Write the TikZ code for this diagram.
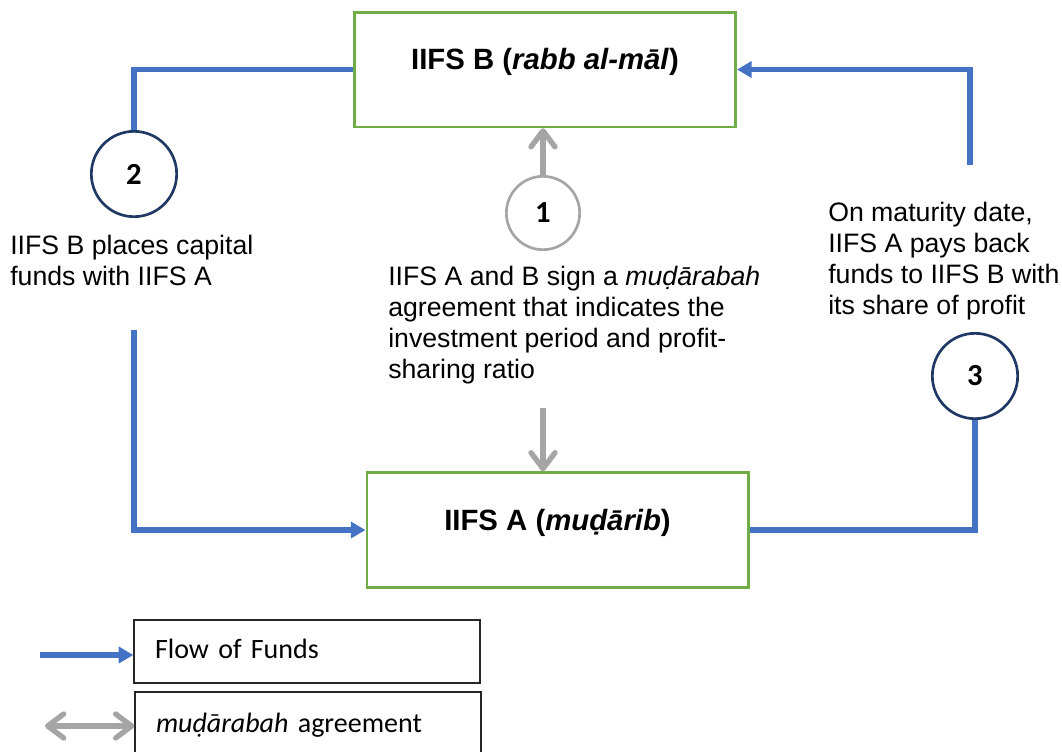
\documentclass[tikz,border=0pt]{standalone}
\usepackage{fontspec}
\setmainfont{Liberation Sans}
\newfontfamily\calibri{Carlito}
\usetikzlibrary{arrows.meta}
\definecolor{flowblue}{HTML}{4472C4}
\definecolor{boxgreen}{HTML}{70AD47}
\definecolor{agreegray}{HTML}{A5A5A5}
\definecolor{numnavy}{HTML}{1F3864}

\begin{document}
\begin{tikzpicture}[x=0.75pt,y=-0.75pt,
	party/.style={draw=boxgreen,line width=2pt,minimum width=286pt,minimum height=86pt,inner sep=0pt,text height=16pt,text depth=16pt,font=\fontsize{22}{26}\selectfont\bfseries},
	num/.style={circle,draw=numnavy,line width=2pt,minimum size=64pt,inner sep=0pt,font=\calibri\fontsize{23}{26}\selectfont\bfseries},
	note/.style={align=left,inner sep=0pt,font=\fontsize{20}{23.25}\selectfont},
	key/.style={draw=black!85,line width=1pt,minimum width=259.5pt,minimum height=47.25pt,inner xsep=15.75pt,inner ysep=0pt,text width=228pt,align=left,text height=14pt,text depth=4pt,font=\calibri\fontsize{21}{25}\selectfont},
	flow/.style={draw=flowblue,line width=4pt},
	flowarrow/.style={flow,-{Triangle[length=11pt,width=12pt]}},
	agree/.style={draw=agreegray,line width=4pt,-{Straight Barb[round,length=12pt,width=18pt]}}]

	\useasboundingbox (0,0) rectangle (1062,751);
	\clip (0,0) rectangle (1062,751);

	% parties
	\node[party] (B) at (545,69.5) {IIFS B (\textit{rabb al-māl})};
	\node[party] (A) at (557.5,530) {IIFS A (\textit{muḍārib})};

	% steps
	\node[num,draw=agreegray,minimum size=55pt] (c1) at (543,213) {1};
	\node[num] (c2) at (134,174) {2};
	\node[num] (c3) at (975,376) {3};

	\node[note,anchor=north west] (t2) at (10,235) {IIFS B places capital\\funds with IIFS A};
	\node[note,anchor=north west] (t1) at (388,266) {IIFS A and B sign a \textit{muḍārabah}\\agreement that indicates the\\investment period and profit-\\sharing ratio};
	\node[note,anchor=north west] (t3) at (828,202) {On maturity date,\\IIFS A pays back\\funds to IIFS B with\\its share of profit};

	\coordinate (s1) at (543,408);
	\coordinate (s2) at (134,330);
	\coordinate (s3) at (970,165);

	\draw[agree] (c1.north) -- (c1.north |- B.south);
	\draw[agree] (s1) -- (s1 |- A.north);
	\draw[flow] (B.west) -| (c2.north);
	\draw[flowarrow] (s2) |- (A.west);
	\draw[flow] (A.east) -| (c3.south);
	\draw[flowarrow] (s3) |- (B.east);

	% legend
	\node[key] (k1) at (307,651.5) {Flow of Funds};
	\node[key,minimum height=51pt] (k2) at (308,726) {\textit{muḍārabah} agreement};
	\coordinate (f0) at (40,655);
	\coordinate (g0) at (45,726);
	\draw[flowarrow] (f0) -- (f0 -| k1.west);
	\draw[agree,{Straight Barb[round,length=12pt,width=18pt]}-{Straight Barb[round,length=12pt,width=18pt]}] (g0) -- (g0 -| k2.west);

\end{tikzpicture}
\end{document}
